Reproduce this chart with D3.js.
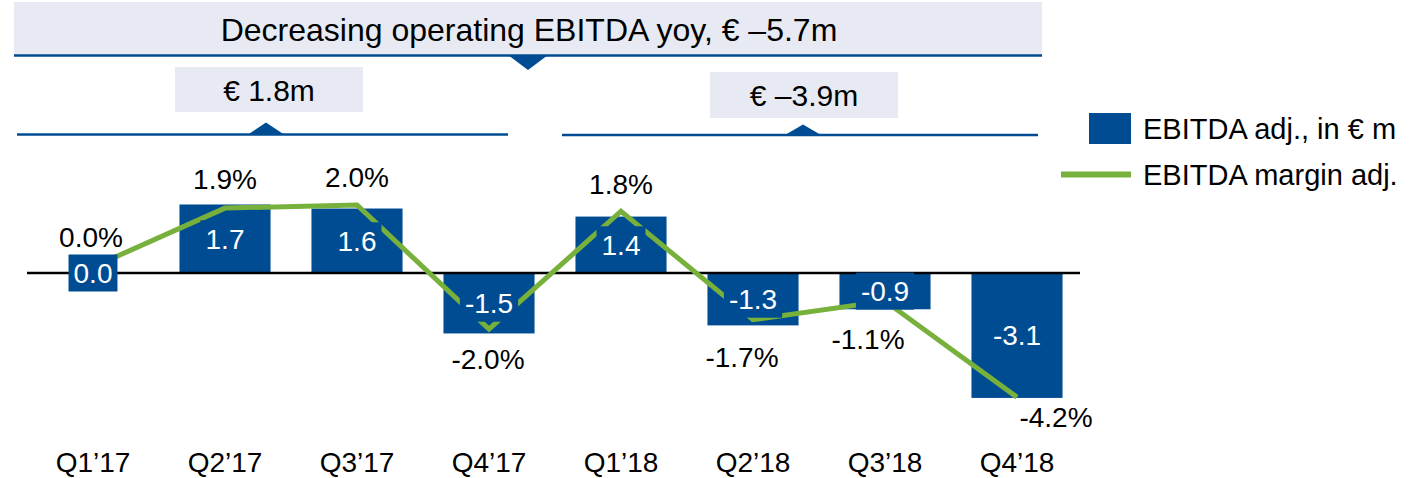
<!DOCTYPE html>
<html><head><meta charset="utf-8">
<script src="https://cdn.jsdelivr.net/npm/d3@7"></script>
<style>body{margin:0;background:#fff}svg{display:block;font-family:"Liberation Sans",Arial,sans-serif}</style>
</head><body><svg id="c" width="1422" height="478"></svg>
<script>
// ---- data ----
const categories = ["Q1’17","Q2’17","Q3’17","Q4’17","Q1’18","Q2’18","Q3’18","Q4’18"];
const ebitdaAdj = [0.0, 1.7, 1.6, -1.5, 1.4, -1.3, -0.9, -3.1];
const marginAdj = [0.0, 1.9, 2.0, -2.0, 1.8, -1.7, -1.1, -4.2];
const bannerText = "Decreasing operating EBITDA yoy, € –5.7m";
const periodTexts = ["€ 1.8m", "€ –3.9m"];
const legendLabels = ["EBITDA adj., in € m", "EBITDA margin adj."];

// ---- layout / style ----
const BLUE = "#004c93", GREEN = "#77b13c", PANEL = "#e7eaf3";
const FS = 28;
// percent label nudges relative to the line point [dx, baseline dy]
const pctNudge = [[-2,-20],[0,-19],[0,-18],[-1,40],[0,-17],[-11,47],[-17,48],[39,30]];

const svg = d3.select("#c");

const x = d3.scaleBand().domain(categories).range([27, 1083]).paddingInner(0.31).paddingOuter(0.155);
const zeroY = 273, pxPerM = 40.3;
const y = d3.scaleLinear().domain([-4, 3]).range([zeroY + 4*pxPerM, zeroY - 3*pxPerM]);
const zero2 = 267, pxPerPct = 31;
const y2 = d3.scaleLinear().domain([-5, 3]).range([zero2 + 5*pxPerPct, zero2 - 3*pxPerPct]);
const cx = c => x(c) + x.bandwidth()/2;

// ---- top banner ----
svg.append("rect").attr("x",14).attr("y",2).attr("width",1028).attr("height",54).attr("fill",PANEL);
svg.append("line").attr("x1",14).attr("x2",1042).attr("y1",55.5).attr("y2",55.5).attr("stroke",BLUE).attr("stroke-width",2.5);
svg.append("path").attr("d","M508,55 L548,55 L528,70 Z").attr("fill",BLUE);
svg.append("text").attr("x",529).attr("y",41).attr("text-anchor","middle").attr("font-size",32).attr("fill","#000").text(bannerText);

// ---- period boxes ----
const periods = [
  {box:[175,67,188,45], line:[17,508,134.5], tri:266, tipY:122.5, text:periodTexts[0]},
  {box:[710,72,188,46], line:[562,1038,135], tri:803, tipY:124.5, text:periodTexts[1]}
];
periods.forEach(p => {
  svg.append("rect").attr("x",p.box[0]).attr("y",p.box[1]).attr("width",p.box[2]).attr("height",p.box[3]).attr("fill",PANEL);
  svg.append("text").attr("x",p.box[0]+p.box[2]/2).attr("y",p.box[1]+p.box[3]/2+11)
    .attr("text-anchor","middle").attr("font-size",30).attr("fill","#000").text(p.text);
  svg.append("line").attr("x1",p.line[0]).attr("x2",p.line[1]).attr("y1",p.line[2]).attr("y2",p.line[2])
    .attr("stroke",BLUE).attr("stroke-width",2.5);
  svg.append("path").attr("d",`M${p.tri-18},${p.line[2]} L${p.tri+18},${p.line[2]} L${p.tri},${p.tipY} Z`).attr("fill",BLUE);
});

// ---- bars ----
svg.append("g").selectAll("rect").data(ebitdaAdj).join("rect")
  .attr("x",(d,i)=>x(categories[i])).attr("width",x.bandwidth())
  .attr("y",d=>Math.min(y(d),y(0))).attr("height",d=>Math.abs(y(d)-y(0)))
  .attr("fill",BLUE);

// zero line
svg.append("line").attr("x1",27).attr("x2",1080).attr("y1",y(0)).attr("y2",y(0)).attr("stroke","#000").attr("stroke-width",2.7);

// ---- margin line ----
const line = d3.line().x((d,i)=>cx(categories[i])).y(d=>y2(d));
svg.append("path").datum(marginAdj).attr("d",line).attr("fill","none")
  .attr("stroke",GREEN).attr("stroke-width",5).attr("stroke-linejoin","miter");

// ---- bar value labels with blue boxes ----
const vl = svg.append("g");
ebitdaAdj.forEach((d,i) => {
  const xc = cx(categories[i]);
  const yc = (y(d)+y(0))/2;
  const g = vl.append("g");
  const r = g.append("rect").attr("fill",BLUE);
  const t = g.append("text").attr("x",xc).attr("y",yc).attr("dy","0.35em").attr("text-anchor","middle")
    .attr("font-size",FS).attr("fill","#fff").text(d.toFixed(1));
  const w = t.node().getComputedTextLength();
  r.attr("x",xc-w/2-5).attr("width",w+10).attr("y",yc-18.5).attr("height",37);
});

// ---- percent labels ----
svg.append("g").selectAll("text").data(marginAdj).join("text")
  .attr("x",(d,i)=>cx(categories[i])+pctNudge[i][0])
  .attr("y",(d,i)=>y2(d)+pctNudge[i][1])
  .attr("text-anchor","middle").attr("font-size",FS).attr("fill","#000")
  .text(d=>d.toFixed(1)+"%");

// ---- category axis ----
const ax = svg.append("g").attr("transform","translate(0,452)")
  .call(d3.axisBottom(x).tickSize(0).tickPadding(0));
ax.select(".domain").remove();
ax.selectAll("text").attr("font-size",FS).attr("fill","#000").attr("font-family","Liberation Sans, Arial, sans-serif");

// ---- legend ----
svg.append("rect").attr("x",1089).attr("y",113).attr("width",42).attr("height",31).attr("fill",BLUE);
svg.append("text").attr("x",1143).attr("y",139).attr("font-size",29).attr("fill","#000").text(legendLabels[0]);
svg.append("line").attr("x1",1061).attr("x2",1131).attr("y1",174.5).attr("y2",174.5).attr("stroke",GREEN).attr("stroke-width",6);
svg.append("text").attr("x",1143).attr("y",185).attr("font-size",29).attr("fill","#000").text(legendLabels[1]);
</script></body></html>
